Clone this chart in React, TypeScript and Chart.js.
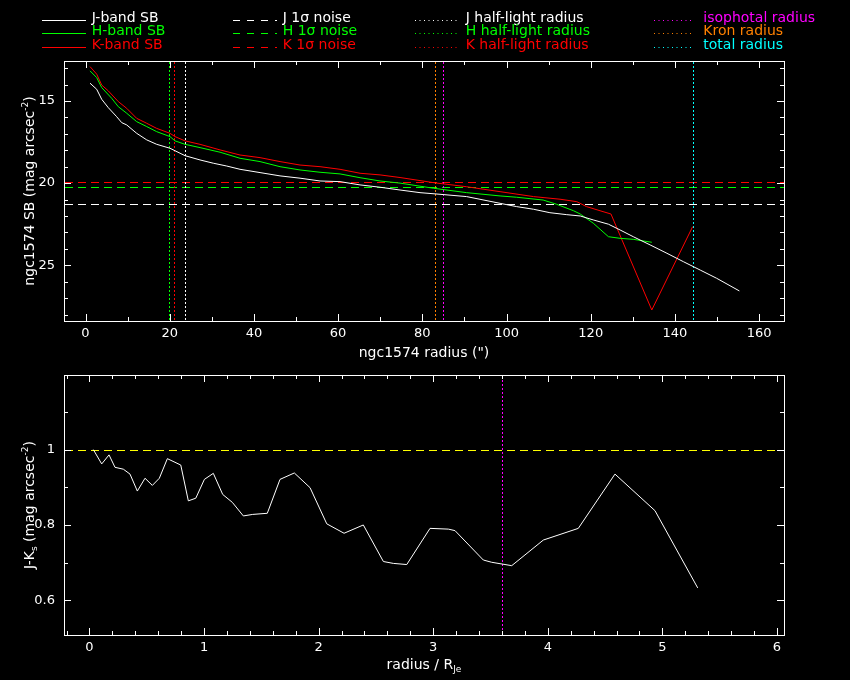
import React, { useEffect, useRef } from "react";
import { Chart, registerables } from "chart.js";
Chart.register(...registerables);

const FONT = '"DejaVu Sans", sans-serif';

// ---------- top panel: surface brightness profiles ----------
const jRadius = [1.07, 2.66, 3.85, 5.42, 7.41, 8.6, 9.79, 12.16, 14.54, 16.91, 20.07, 23.63, 27.2, 30.36, 33.54, 36.7, 41.45, 46.2, 50.95, 55.7, 60.45, 65.2, 69.95, 74.7, 79.45, 84.2, 90.5, 98.46, 102.4, 106.4, 110.3, 114.3, 117.5, 120.6, 124.2, 126.96, 130.1, 134.1, 138.1, 142.0, 146.0, 149.9, 155.3];
const jSB = [13.92, 14.29, 14.9, 15.41, 15.96, 16.32, 16.46, 16.97, 17.37, 17.64, 17.88, 18.33, 18.59, 18.79, 18.96, 19.16, 19.36, 19.56, 19.7, 19.87, 19.91, 20.11, 20.25, 20.42, 20.58, 20.68, 20.82, 21.23, 21.43, 21.59, 21.8, 21.92, 22.0, 22.24, 22.5, 22.85, 23.26, 23.76, 24.27, 24.78, 25.29, 25.79, 26.56];

const hRadius = [1.07, 2.66, 3.85, 6.22, 7.79, 9.79, 12.16, 14.54, 16.91, 20.07, 21.26, 23.63, 27.2, 31.95, 36.7, 41.45, 46.2, 50.95, 55.7, 60.45, 65.2, 69.95, 74.7, 82.6, 90.5, 98.46, 102.4, 108.7, 111.9, 115.9, 117.5, 120.6, 124.2, 126.96, 130.1, 134.5];
const hSB = [13.17, 13.58, 14.19, 14.84, 15.35, 15.75, 16.26, 16.56, 16.87, 17.17, 17.43, 17.64, 17.84, 18.12, 18.49, 18.69, 19.0, 19.2, 19.34, 19.44, 19.67, 19.87, 20.0, 20.31, 20.58, 20.78, 20.86, 21.03, 21.29, 21.68, 21.88, 22.44, 23.26, 23.36, 23.42, 23.6];

const kRadius = [1.07, 2.66, 3.85, 5.42, 7.79, 9.79, 12.16, 14.54, 16.91, 20.07, 21.26, 23.63, 27.2, 31.95, 36.7, 41.45, 46.2, 50.95, 55.7, 60.45, 65.2, 69.95, 74.7, 82.6, 90.5, 98.46, 106.4, 112.7, 116.7, 119.0, 122.2, 124.8, 134.5, 144.2];
const kSB = [12.91, 13.37, 14.03, 14.39, 15.04, 15.45, 16.06, 16.36, 16.67, 16.97, 17.17, 17.43, 17.64, 17.98, 18.29, 18.45, 18.69, 18.9, 19.0, 19.16, 19.4, 19.5, 19.66, 19.97, 20.22, 20.52, 20.82, 20.98, 21.13, 21.43, 21.68, 21.88, 27.72, 22.65];

const noiseLevels = [21.29, 20.25, 19.91]; // J, H, K 1-sigma noise
const halfLightRadii = [23.7, 19.9, 21.1]; // J, H, K
const isophotalRadius = 85.0;
const kronRadius = 83.1;
const totalRadius = 144.4;

const topXRange = [-5.107, 165.9];
const topYRange = [12.57, 28.39];
const topXTicks = [0, 20, 40, 60, 80, 100, 120, 140, 160];
const topYTicks = [15, 20, 25];

// ---------- bottom panel: J-Ks colour profile ----------
const colorRadius = [0.034, 0.107, 0.171, 0.223, 0.296, 0.354, 0.418, 0.485, 0.549, 0.61, 0.68, 0.797, 0.863, 0.928, 1.003, 1.081, 1.163, 1.247, 1.343, 1.425, 1.552, 1.663, 1.788, 1.925, 2.071, 2.222, 2.39, 2.565, 2.652, 2.769, 2.972, 3.132, 3.19, 3.437, 3.51, 3.685, 3.961, 4.266, 4.586, 4.935, 5.308];
const colorJK = [1.0, 0.962, 0.986, 0.953, 0.948, 0.935, 0.89, 0.924, 0.905, 0.924, 0.976, 0.959, 0.864, 0.871, 0.921, 0.937, 0.881, 0.86, 0.824, 0.828, 0.831, 0.921, 0.938, 0.899, 0.803, 0.778, 0.8, 0.703, 0.698, 0.695, 0.791, 0.789, 0.785, 0.707, 0.701, 0.692, 0.76, 0.791, 0.935, 0.838, 0.633];
const isophotalRadiusNorm = 3.603;
const colorReference = 1;

const bottomXRange = [-0.222, 6.061];
const bottomYRange = [0.508, 1.198];
const bottomXTicks = [0, 1, 2, 3, 4, 5, 6];
const bottomYTicks = [0.6, 0.8, 1];

// ---------- legend ----------
const legendCols = [
  ["J-band SB", "H-band SB", "K-band SB"],
  ["J 1σ noise", "H 1σ noise", "K 1σ noise"],
  ["J half-light radius", "H half-light radius", "K half-light radius"],
  ["isophotal radius", "Kron radius", "total radius"],
];

const WHITE = "#ffffff";
const GREEN = "#00ff00";
const RED = "#ff0000";
const MAGENTA = "#ff00ff";
const ORANGE = "#ff8000";
const CYAN = "#00ffff";
const YELLOW = "#ffff00";

const bandColors = [WHITE, GREEN, RED];
const radiusColors = [MAGENTA, ORANGE, CYAN];

const NOISE_DASH = [8, 5];
const DOT_DASH = [2, 2];

type Seg = { t: string; shift?: number; small?: boolean };
type RefLine = { value: number; color: string; dash: number[] };

// crisp 1px (optionally dashed) line drawn as filled pixels
function pixelLine(ctx: CanvasRenderingContext2D, x: number, y: number, len: number, horizontal: boolean, dash: number[], color: string) {
  ctx.fillStyle = color;
  const put = (p: number, l: number) => {
    if (horizontal) ctx.fillRect(x + p, y, l, 1);
    else ctx.fillRect(x, y + p, 1, l);
  };
  if (!dash.length) {
    put(0, len);
    return;
  }
  let p = 0;
  let i = 0;
  while (p < len) {
    const seg = dash[i % dash.length];
    if (i % 2 === 0) put(p, Math.min(seg, len - p));
    p += seg;
    i++;
  }
}

function drawRich(ctx: CanvasRenderingContext2D, segs: Seg[], cx: number, cy: number, rot: number) {
  ctx.save();
  ctx.translate(cx, cy);
  ctx.rotate(rot);
  const big = `14px ${FONT}`;
  const small = `9px ${FONT}`;
  let w = 0;
  for (const s of segs) {
    ctx.font = s.small ? small : big;
    w += ctx.measureText(s.t).width;
  }
  let x = -w / 2;
  ctx.fillStyle = WHITE;
  ctx.textAlign = "left";
  ctx.textBaseline = "alphabetic";
  for (const s of segs) {
    ctx.font = s.small ? small : big;
    ctx.fillText(s.t, x, 5 + (s.shift || 0));
    x += ctx.measureText(s.t).width;
  }
  ctx.restore();
}

// horizontal / vertical reference lines placed through the chart's scales
function refLinesPlugin(hLines: RefLine[], vLines: RefLine[]) {
  return {
    id: "refLines",
    beforeDatasetsDraw(chart: any) {
      const { ctx, chartArea: a, scales } = chart;
      const L = Math.round(a.left);
      const R = Math.round(a.right);
      const T = Math.round(a.top);
      const B = Math.round(a.bottom);
      ctx.save();
      for (const l of hLines) {
        const py = Math.round(scales.y.getPixelForValue(l.value));
        pixelLine(ctx, L + 1, py, R - L - 1, true, l.dash, l.color);
      }
      for (const l of vLines) {
        const px = Math.round(scales.x.getPixelForValue(l.value));
        pixelLine(ctx, px, T + 1, B - T - 1, false, l.dash, l.color);
      }
      ctx.restore();
    },
  };
}

function framePlugin(xMajor: number, xMinor: number, yMajor: number, yMinor: number) {
  return {
    id: "frame",
    afterDatasetsDraw(chart: any) {
      const { ctx, chartArea: a, scales } = chart;
      const xs = scales.x;
      const ys = scales.y;
      ctx.save();
      ctx.strokeStyle = WHITE;
      ctx.lineWidth = 1;
      ctx.setLineDash([]);
      ctx.strokeRect(a.left + 0.5, a.top + 0.5, a.right - a.left, a.bottom - a.top);
      const isMaj = (v: number, m: number) => Math.abs(v / m - Math.round(v / m)) < 1e-6;
      ctx.beginPath();
      const x0 = Math.ceil(xs.min / xMinor - 1e-9);
      for (let i = x0; i * xMinor <= xs.max; i++) {
        const v = i * xMinor;
        const px = Math.round(xs.getPixelForValue(v)) + 0.5;
        const len = isMaj(v, xMajor) ? 7 : 4;
        ctx.moveTo(px, a.bottom);
        ctx.lineTo(px, a.bottom - len);
        ctx.moveTo(px, a.top);
        ctx.lineTo(px, a.top + len);
      }
      const y0 = Math.ceil(ys.min / yMinor - 1e-9);
      for (let i = y0; i * yMinor <= ys.max + 1e-9; i++) {
        const v = i * yMinor;
        const py = Math.round(ys.getPixelForValue(v)) + 0.5;
        const len = isMaj(v, yMajor) ? 7 : 4;
        ctx.moveTo(a.left, py);
        ctx.lineTo(a.left + len, py);
        ctx.moveTo(a.right, py);
        ctx.lineTo(a.right - len, py);
      }
      ctx.stroke();
      ctx.restore();
    },
  };
}

function titlesPlugin(xTitle: Seg[], yTitle: Seg[], xOff: number) {
  return {
    id: "titles",
    afterDraw(chart: any) {
      const { ctx, chartArea: a } = chart;
      drawRich(ctx, xTitle, (a.left + a.right) / 2, a.bottom + xOff, 0);
      drawRich(ctx, yTitle, 29, (a.top + a.bottom) / 2, -Math.PI / 2);
    },
  };
}

const legendPlugin = {
  id: "customLegend",
  afterDraw(chart: any) {
    const ctx: CanvasRenderingContext2D = chart.ctx;
    const lineStart = [42, 233, 415, 654];
    const lineEnd = [86, 277, 457, 694];
    const textX = [91.7, 282.7, 465.7, 703.3];
    const rowY = [20, 33, 47];
    const dashes = [[], [7, 7], [1, 3.5], [1, 3.5]];
    ctx.save();
    ctx.font = `14px ${FONT}`;
    ctx.textBaseline = "alphabetic";
    ctx.textAlign = "left";
    legendCols.forEach((col, c) => {
      col.forEach((label, r) => {
        const color = c === 3 ? radiusColors[r] : bandColors[r];
        pixelLine(ctx, lineStart[c], rowY[r], lineEnd[c] - lineStart[c], true, dashes[c], color);
        ctx.fillStyle = color;
        ctx.fillText(label, textX[c], rowY[r] + 2);
      });
    });
    ctx.restore();
  },
};

function axisOpts(range: number[], ticks: number[], fmt: (v: number) => string, padding: number, fitter: (s: any) => void, extra: any = {}) {
  return {
    type: "linear",
    min: range[0],
    max: range[1],
    grid: { display: false, drawTicks: false },
    border: { display: false },
    ticks: {
      color: WHITE,
      font: { family: FONT, size: 13 },
      padding,
      maxRotation: 0,
      autoSkip: false,
      callback: (v: any) => fmt(Number(v)),
    },
    afterBuildTicks: (s: any) => {
      s.ticks = ticks.map((v) => ({ value: v }));
    },
    afterFit: (s: any) => {
      fitter(s);
      s.paddingTop = 0;
      s.paddingBottom = 0;
      s.paddingLeft = 0;
      s.paddingRight = 0;
    },
    ...extra,
  };
}

function line(xs: number[], ys: number[], color: string) {
  return {
    data: xs.map((x, i) => ({ x, y: ys[i] })),
    showLine: true,
    borderColor: color,
    backgroundColor: color,
    borderWidth: 1,
    pointRadius: 0,
    tension: 0,
  };
}

export default function App() {
  const topRef = useRef<HTMLCanvasElement>(null);
  const botRef = useRef<HTMLCanvasElement>(null);

  useEffect(() => {
    document.body.style.margin = "0";
    document.body.style.background = "#000";

    const topH: RefLine[] = noiseLevels.map((n, i) => ({ value: n, color: bandColors[i], dash: NOISE_DASH }));
    const topV: RefLine[] = [
      ...halfLightRadii.map((r, i) => ({ value: r, color: bandColors[i], dash: DOT_DASH })),
      ...[isophotalRadius, kronRadius, totalRadius].map((r, i) => ({ value: r, color: radiusColors[i], dash: DOT_DASH })),
    ];

    const top = new Chart(topRef.current as HTMLCanvasElement, {
      type: "scatter",
      data: {
        datasets: [line(jRadius, jSB, WHITE), line(hRadius, hSB, GREEN), line(kRadius, kSB, RED)],
      },
      options: {
        animation: false,
        responsive: false,
        events: [],
        layout: { padding: { left: 0, right: 66, top: 61, bottom: 0 } },
        plugins: { legend: { display: false }, tooltip: { enabled: false } },
        scales: {
          x: axisOpts(topXRange, topXTicks, (v) => String(Math.round(v)), 5, (s) => {
            s.height = 44;
          }),
          y: axisOpts(
            topYRange,
            topYTicks,
            (v) => String(Math.round(v)),
            9,
            (s) => {
              s.width = 64;
            },
            { reverse: true }
          ),
        },
      } as any,
      plugins: [
        refLinesPlugin(topH, topV),
        framePlugin(20, 10, 5, 1),
        titlesPlugin(
          [{ t: 'ngc1574 radius (")' }],
          [{ t: "ngc1574 SB (mag arcsec" }, { t: "-2", small: true, shift: -6 }, { t: ")" }],
          31
        ),
        legendPlugin,
      ] as any,
    });

    const fmtY = (v: number) => String(Math.round(v * 10) / 10);

    const bot = new Chart(botRef.current as HTMLCanvasElement, {
      type: "scatter",
      data: { datasets: [line(colorRadius, colorJK, WHITE)] },
      options: {
        animation: false,
        responsive: false,
        events: [],
        layout: { padding: { left: 0, right: 66, top: 10, bottom: 0 } },
        plugins: { legend: { display: false }, tooltip: { enabled: false } },
        scales: {
          x: axisOpts(bottomXRange, bottomXTicks, (v) => String(Math.round(v)), 5, (s) => {
            s.height = 45;
          }),
          y: axisOpts(bottomYRange, bottomYTicks, fmtY, 9, (s) => {
            s.width = 64;
          }),
        },
      } as any,
      plugins: [
        refLinesPlugin(
          [{ value: colorReference, color: YELLOW, dash: NOISE_DASH }],
          [{ value: isophotalRadiusNorm, color: MAGENTA, dash: DOT_DASH }]
        ),
        framePlugin(1, 0.2, 0.2, 0.1),
        titlesPlugin(
          [{ t: "radius / R" }, { t: "Je", small: true, shift: 3 }],
          [
            { t: "J-K" },
            { t: "s", small: true, shift: 3 },
            { t: " (mag arcsec" },
            { t: "-2", small: true, shift: -6 },
            { t: ")" },
          ],
          29
        ),
      ] as any,
    });

    return () => {
      top.destroy();
      bot.destroy();
    };
  }, []);

  return (
    <div
      style={{
        position: "fixed",
        left: 0,
        top: 0,
        width: 850,
        height: 680,
        background: "#000",
        overflow: "hidden",
      }}
    >
      <canvas
        ref={topRef}
        width={850}
        height={365}
        style={{ position: "absolute", left: 0, top: 0, width: 850, height: 365 }}
      />
      <canvas
        ref={botRef}
        width={850}
        height={315}
        style={{ position: "absolute", left: 0, top: 365, width: 850, height: 315 }}
      />
    </div>
  );
}
